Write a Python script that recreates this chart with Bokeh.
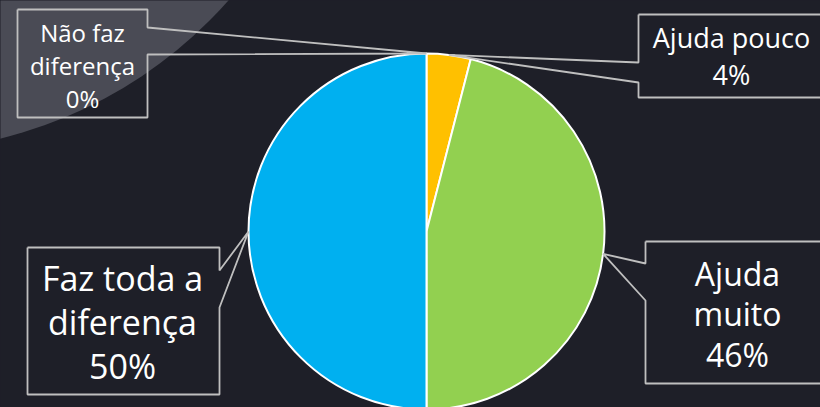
import math
from bokeh.plotting import figure
from bokeh.models import Range1d, GlobalInlineStyleSheet
from bokeh.core.properties import value
from bokeh.embed import file_html
from bokeh.resources import INLINE

# ---- data ----
categories = ["Ajuda pouco", "Ajuda muito", "Faz toda a diferença", "Não faz diferença"]
label_lines = [["Ajuda pouco"], ["Ajuda", "muito"], ["Faz toda a", "diferença"], ["Não faz", "diferença"]]
values = [4, 46, 50, 0]
colors = ["#FFC000", "#92D050", "#00B0F0", "#A5A5A5"]

# ---- layout (image pixel coords, y downward) ----
W, H = 820, 407
CX, CY, R = 426, 231, 178
BG = "#1E1F28"
# callout boxes: left, right, top, bottom, pointer side, pointer gap y1, y2
boxes = [
    (638, 830, 14, 97, "left", 62, 82),
    (645, 830, 241, 383, "left", 263, 300),
    (27, 219, 247, 394, "right", 270, 307),
    (17, 147, 9, 117, "right", 27, 54),
]
# text: center x, baselines, font size
texts = [
    (731, [47, 84], 27),
    (737, [285, 325, 366], 32),
    (122, [290, 334, 378], 34),
    (82, [41, 74, 107], 24),
]


def fy(y):
    return H - y


p = figure(width=W, height=H, x_range=Range1d(0, W), y_range=Range1d(0, H),
           output_backend="svg", toolbar_location=None, min_border=0,
           x_axis_type=None, y_axis_type=None,
           background_fill_color=BG, border_fill_color=BG,
           outline_line_color=None)
p.grid.visible = False
p.stylesheets = [GlobalInlineStyleSheet(css="html,body{margin:0;padding:0;background:#1E1F28;overflow:hidden;}")]

# decorative lighter corner
p.circle(x=[-107], y=[fy(-296)], radius=447, fill_color="#4A4B55", line_color=None)

# pie
total = float(sum(values))
starts, ends, mids = [], [], []
cum = 0.0
for v in values:
    a0 = math.pi / 2 - cum / total * 2 * math.pi
    a1 = math.pi / 2 - (cum + v) / total * 2 * math.pi
    starts.append(a0)
    ends.append(a1)
    mids.append((a0 + a1) / 2)
    cum += v

nz = [i for i, v in enumerate(values) if v > 0]
p.wedge(x=[CX] * len(nz), y=[fy(CY)] * len(nz), radius=R,
        start_angle=[starts[i] for i in nz], end_angle=[ends[i] for i in nz],
        direction="clock",
        fill_color=[colors[i] for i in nz], line_color="white", line_width=2)

# callouts
for i, v in enumerate(values):
    ax = CX + R * math.cos(mids[i])
    ay = fy(CY) + R * math.sin(mids[i])
    l, r, t, b, side, g1, g2 = boxes[i]
    if side == "left":
        xs = [l, r, r, l, l, ax, l, l]
        ys = [fy(t), fy(t), fy(b), fy(b), fy(g2), ay, fy(g1), fy(t)]
    else:
        xs = [l, r, r, ax, r, r, l, l]
        ys = [fy(t), fy(t), fy(g1), ay, fy(g2), fy(b), fy(b), fy(t)]
    p.line(xs, ys, line_color="#BFBFBF", line_width=1.8)

    cx_t, baselines, fs = texts[i]
    lines = label_lines[i] + [f"{v}%"]
    p.text(x=[cx_t] * len(lines), y=[fy(bl - 0.36 * fs) for bl in baselines], text=lines,
           text_align="center", text_baseline="middle",
           text_font=value("Open Sans"), text_font_size=f"{fs}px",
           text_color="white")

open("out.html", "w").write(file_html(p, INLINE))
